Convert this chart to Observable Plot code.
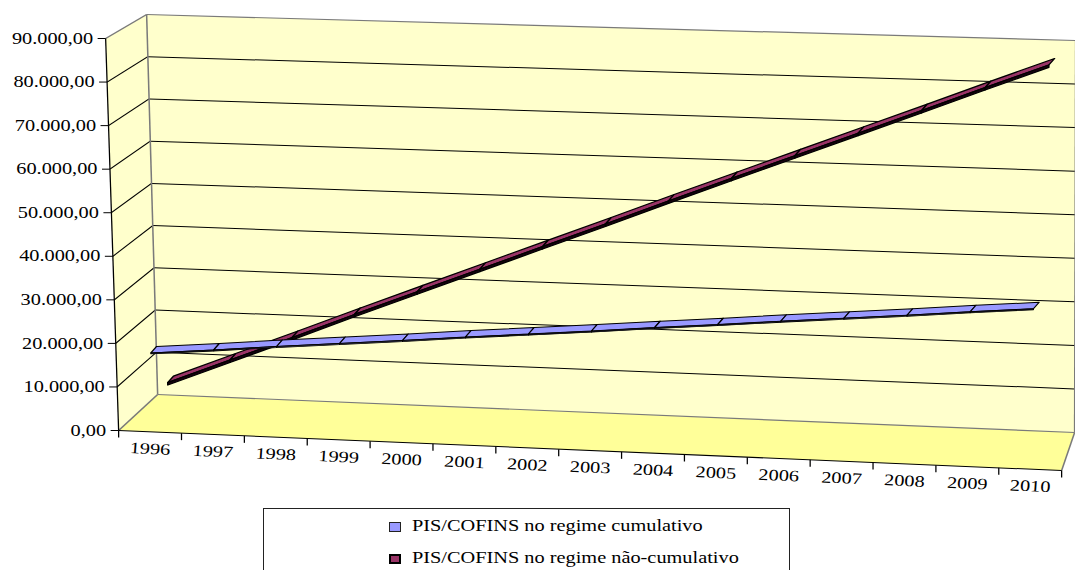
<!DOCTYPE html>
<html>
<head>
<meta charset="utf-8">
<script src="https://cdn.jsdelivr.net/npm/d3@7"></script>
<script src="https://cdn.jsdelivr.net/npm/@observablehq/plot@0.6"></script>
<style>
  body { margin: 0; background: #fff; }
  #wrap { position: relative; width: 1075px; height: 570px; overflow: hidden; background: #fff; }
  #chart svg { display: block; }
  .legend { position: absolute; left: 263px; top: 508px; width: 527px; height: 90px;
            border: 1px solid #222; box-sizing: border-box; background: #fff; }
  .sw { position: absolute; width: 12px; height: 10px; box-sizing: border-box; }
  .lt { position: absolute; white-space: nowrap; font-family: "Liberation Serif", "Times New Roman", serif;
        font-size: 16px; color: #000; transform: scaleX(1.27); transform-origin: 0 0; }
</style>
</head>
<body>
<div id="wrap">
  <div id="chart"></div>
  <div class="legend" id="legend"></div>
</div>
<script>
// ---------- data ----------
const years = ["1996","1997","1998","1999","2000","2001","2002","2003","2004","2005","2006","2007","2008","2009","2010"];
const seriesNames = ["PIS/COFINS no regime cumulativo", "PIS/COFINS no regime não-cumulativo"];
const cumulativo    = [17300, 18600, 20000, 21300, 22600, 24000, 25300, 26600, 28000, 29300, 30700, 32000, 33300, 34700, 36000];
const naoCumulativo = [6500, 12300, 18100, 24000, 29800, 35600, 41400, 47200, 53100, 58900, 64700, 70500, 76300, 82200, 88000];
const yTicks = [0, 10000, 20000, 30000, 40000, 50000, 60000, 70000, 80000, 90000];
const seriesColors = ["#9999FF", "#993366"];

// ---------- 3-D view (reference is stretched horizontally) ----------
const S = 1.27;                 // horizontal stretch of the picture
const W = 1075 / S, H = 505;
const N = years.length;         // category slots
const VMAX = 90000;
const FRONT = [[118,430],[1061,470],[105,38],[1061.5,78]];  // BL, BR, TL, TR
const BACK  = [[157,394],[1074,432],[146,14],[1075,40]];
const UX = (FRONT[1][0]-FRONT[0][0]) / N;
const UY = (FRONT[0][1]-FRONT[2][1]) / VMAX;
function bil(q, s, t) {
  const bx = q[0][0] + (q[1][0]-q[0][0])*s, by = q[0][1] + (q[1][1]-q[0][1])*s;
  const tx = q[2][0] + (q[3][0]-q[2][0])*s, ty = q[2][1] + (q[3][1]-q[2][1])*s;
  return [bx + (tx-bx)*t, by + (ty-by)*t];
}
// view position -> front-plane data coordinates used by the x / y scales
const toData = ([X, Y]) => ({x: (X - FRONT[0][0]) / UX, y: (FRONT[0][1] - Y) / UY});
function wall(u, v, d) {
  const f = bil(FRONT, u/N, v/VMAX), b = bil(BACK, u/N, v/VMAX);
  return toData([f[0] + (b[0]-f[0])*d, f[1] + (b[1]-f[1])*d]);
}
function rib(u, v, d) {
  const f = bil(FRONT, u/N, v/VMAX);
  return toData([f[0] + 32*d, f[1] - 36*d]);
}
function poly(id, pts) { return [...pts, pts[0]].map(p => ({id, x: p.x, y: p.y})); }

// walls and floor
const backWall  = poly("back",  [wall(0,0,1), wall(N,0,1), wall(N,VMAX,1), wall(0,VMAX,1)]);
const sideWall  = poly("side",  [wall(0,0,0), wall(0,0,1), wall(0,VMAX,1), wall(0,VMAX,0)]);
const floorPoly = poly("floor", [wall(0,0,0), wall(N,0,0), wall(N,0,1), wall(0,0,1)]);

// grid lines
const gridBack = yTicks.filter(v => v > 0 && v < VMAX).map(v => ({a: wall(0,v,1), b: wall(N,v,1)}));
const gridSide = yTicks.filter(v => v > 0 && v < VMAX).map(v => ({a: wall(0,v,0), b: wall(0,v,1)}));
const edgesGray = [
  {a: wall(0,VMAX,0), b: wall(0,VMAX,1)}, {a: wall(0,VMAX,1), b: wall(N,VMAX,1)},
  {a: wall(0,0,1), b: wall(0,VMAX,1)}, {a: wall(N,0,1), b: wall(N,VMAX,1)},
  {a: wall(0,0,0), b: wall(0,0,1)}, {a: wall(0,0,1), b: wall(N,0,1)},
  {a: wall(N,0,0), b: wall(N,0,1)}
];
const axisLines = [{a: wall(0,0,0), b: wall(0,VMAX,0)}, {a: wall(0,0,0), b: wall(N,0,0)}];
const yTickMarks = yTicks.map(v => { const p = wall(0,v,0); return {a: p, b: {x: p.x - 8/UX, y: p.y}}; });
const xTickMarks = d3.range(N+1).map(u => { const p = wall(u,0,0); return {a: p, b: {x: p.x, y: p.y - 7/UY}}; });

// ribbons
function ribbon(values, id, d1, d2, thick) {
  const top = [], front = [];
  for (let k = 0; k < values.length - 1; k++) {
    const u0 = k + 0.5, u1 = k + 1.5, v0 = values[k], v1 = values[k+1];
    top.push(...poly(id+"t"+k, [rib(u0,v0,d1), rib(u1,v1,d1), rib(u1,v1,d2), rib(u0,v0,d2)]));
    front.push(...poly(id+"f"+k, [rib(u0,v0,d1), rib(u1,v1,d1), rib(u1,v1-thick,d1), rib(u0,v0-thick,d1)]));
  }
  return {top, front};
}
const rCum = ribbon(cumulativo, "c", 0.10, 0.28, 250);
const rNao = ribbon(naoCumulativo, "n", 0.58, 0.76, 550);

const fmt = d3.formatLocale({decimal: ",", thousands: ".", grouping: [3], currency: ["", ""]}).format(",.2f");
const font = "Liberation Serif, Times New Roman, serif";
const seg = (data, opts) => Plot.link(data, {x1: d => d.a.x, y1: d => d.a.y, x2: d => d.b.x, y2: d => d.b.y, ...opts});

const chart = Plot.plot({
  width: W, height: H,
  marginTop: 0, marginRight: 0, marginBottom: 0, marginLeft: 0,
  x: {type: "linear", domain: [0, N], range: [FRONT[0][0]/S, FRONT[1][0]/S], axis: null},
  y: {type: "linear", domain: [0, VMAX], range: [FRONT[0][1], FRONT[2][1]], axis: null},
  style: {fontFamily: font, fontSize: "16px", color: "#000", background: "transparent", overflow: "visible"},
  marks: [
    Plot.line(backWall, {x: "x", y: "y", z: "id", fill: "#FFFFCC", stroke: "none"}),
    Plot.line(sideWall, {x: "x", y: "y", z: "id", fill: "#FFFFCC", stroke: "none"}),
    Plot.line(floorPoly, {x: "x", y: "y", z: "id", fill: "#FFFF99", stroke: "none"}),
    seg(gridBack, {stroke: "#000", strokeWidth: 1}),
    seg(gridSide, {stroke: "#000", strokeWidth: 1}),
    seg(edgesGray, {stroke: "#7a7a7a", strokeWidth: 1.2}),
    seg(axisLines, {stroke: "#000", strokeWidth: 1}),
    seg(yTickMarks, {stroke: "#000", strokeWidth: 1}),
    seg(xTickMarks, {stroke: "#000", strokeWidth: 1}),
    Plot.text(yTicks, {x: v => wall(0,v,0).x, y: v => wall(0,v,0).y, text: v => fmt(v),
      textAnchor: "end", dx: -12.5/S, fontSize: 16, fontFamily: font, fill: "#000"}),
    Plot.text(years, {x: (d,i) => wall(i+0.5,0,0).x, y: (d,i) => wall(i+0.5,0,0).y, text: d => d,
      dy: 17, rotate: 3.1, fontSize: 16, fontFamily: font, fill: "#000"}),
    Plot.line(rNao.top, {x: "x", y: "y", z: "id", fill: seriesColors[1], stroke: "#000", strokeWidth: 1.2, strokeLinejoin: "round"}),
    Plot.line(rNao.front, {x: "x", y: "y", z: "id", fill: "#1a0010", stroke: "#000", strokeWidth: 1.2, strokeLinejoin: "round"}),
    Plot.line(rCum.top, {x: "x", y: "y", z: "id", fill: seriesColors[0], stroke: "#000", strokeWidth: 1, strokeLinejoin: "round"}),
    Plot.line(rCum.front, {x: "x", y: "y", z: "id", fill: "#333355", stroke: "#000", strokeWidth: 0.8, strokeLinejoin: "round"})
  ]
});
chart.setAttribute("preserveAspectRatio", "none");
chart.style.width = "1075px";
chart.style.height = H + "px";
chart.style.maxWidth = "none";
document.getElementById("chart").appendChild(chart);

// legend (below the svg)
const lg = document.getElementById("legend");
const swBorders = ["1px solid #222", "2px solid #000"];
seriesNames.forEach((name, i) => {
  const sw = document.createElement("div");
  sw.className = "sw";
  sw.style.left = "125px";
  sw.style.top = (13 + i*31.6) + "px";
  sw.style.background = seriesColors[i];
  sw.style.border = swBorders[i];
  lg.appendChild(sw);
  const t = document.createElement("div");
  t.className = "lt";
  t.style.left = "148px";
  t.style.top = (8 + i*31.6) + "px";
  t.textContent = name;
  lg.appendChild(t);
});
</script>
</body>
</html>
